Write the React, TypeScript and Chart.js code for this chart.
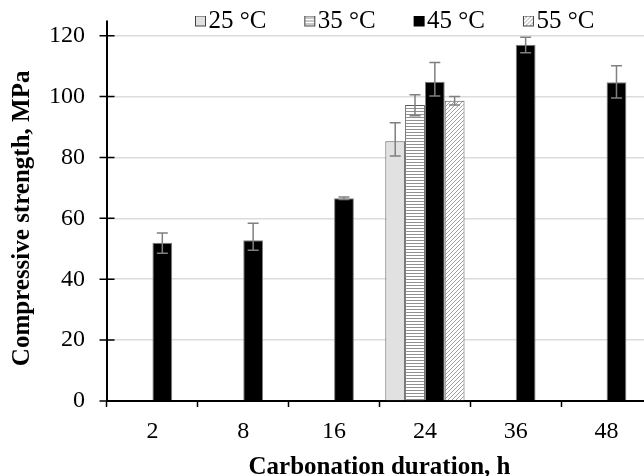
import React, { useEffect, useRef } from 'react';
import { Chart, registerables } from 'chart.js';

Chart.register(...registerables);

// ---- data ----
const categories = ['2', '8', '16', '24', '36', '48'];
const seriesLabels = ['25 °C', '35 °C', '45 °C', '55 °C'];
const values25 = [null, null, null, 85.3, null, null];
const values35 = [null, null, null, 97.2, null, null];
const values45 = [52.0, 52.8, 66.6, 104.9, 117.0, 104.7];
const values55 = [null, null, null, 98.6, null, null];
const errPlus25 = [0, 0, 0, 6.1, 0, 0];
const errMinus25 = [0, 0, 0, 4.8, 0, 0];
const errPlus35 = [0, 0, 0, 3.4, 0, 0];
const errMinus35 = [0, 0, 0, 3.5, 0, 0];
const errPlus45 = [3.2, 5.6, 0.4, 6.3, 2.5, 5.4];
const errMinus45 = [3.5, 3.3, 0.4, 4.7, 2.6, 5.2];
const errPlus55 = [0, 0, 0, 1.4, 0, 0];
const errMinus55 = [0, 0, 0, 1.4, 0, 0];
const yTickValues = [0, 20, 40, 60, 80, 100, 120];
const yMax = 120;
const yAxisLineMax = 125;
const xTitle = 'Carbonation duration, h';
const yTitle = 'Compressive strength, MPa';

const FONT = '"Liberation Serif", "Times New Roman", serif';
const CANVAS_W = 660;
const CANVAS_H = 490;
const LEGEND_X = 194;
const LEGEND_Y = 9;
const LEGEND_STEP = 109.3;
const LEGEND_FONT = 25;

function tile(w: number, h: number, draw: (c: CanvasRenderingContext2D) => void) {
  const c = document.createElement('canvas');
  c.width = w;
  c.height = h;
  const g = c.getContext('2d')!;
  draw(g);
  return c;
}

function makeFills() {
  const tmp = document.createElement('canvas').getContext('2d')!;
  const hl = tile(3, 3, (g) => {
    g.fillStyle = '#ffffff';
    g.fillRect(0, 0, 3, 3);
    g.fillStyle = '#909090';
    g.fillRect(0, 0, 3, 1);
  });
  const dg = tile(4, 4, (g) => {
    g.fillStyle = '#ffffff';
    g.fillRect(0, 0, 4, 4);
    g.fillStyle = '#a0a0a0';
    for (let i = 0; i < 4; i++) g.fillRect(i, 3 - i, 1, 1);
  });
  const hPat = tmp.createPattern(hl, 'repeat')!;
  const dPat = tmp.createPattern(dg, 'repeat')!;
  return ['#e1e1e1', hPat, '#000000', dPat] as (string | CanvasPattern)[];
}

function legendImage(kind: number) {
  return tile(24, 12, (g) => {
    const x0 = 12, y0 = 0, s = 11;
    if (kind === 0) {
      g.fillStyle = '#e1e1e1';
      g.fillRect(x0, y0, s, s);
    } else if (kind === 1) {
      g.fillStyle = '#ffffff';
      g.fillRect(x0, y0, s, s);
      g.fillStyle = '#909090';
      for (let yy = 2; yy < s - 1; yy += 3) g.fillRect(x0, y0 + yy, s, 1);
    } else if (kind === 2) {
      g.fillStyle = '#000000';
      g.fillRect(x0, y0, s, s);
    } else {
      g.fillStyle = '#ffffff';
      g.fillRect(x0, y0, s, s);
      g.fillStyle = '#a0a0a0';
      for (let xx = 0; xx < s; xx++) for (let yy = 0; yy < s; yy++) if ((xx + yy) % 4 === 0) g.fillRect(x0 + xx, y0 + yy, 1, 1);
    }
    g.strokeStyle = kind === 2 ? '#000000' : '#404040';
    g.lineWidth = 1;
    g.strokeRect(x0 + 0.5, y0 + 0.5, s - 1, s - 1);
  });
}

export default function App() {
  const ref = useRef<HTMLCanvasElement | null>(null);

  useEffect(() => {
    const canvas = ref.current;
    if (!canvas) return;
    const fills = makeFills();
    const imgs = [0, 1, 2, 3].map(legendImage);
    const mctx = document.createElement('canvas').getContext('2d')!;
    mctx.font = `${LEGEND_FONT}px ${FONT}`;
    const tw = mctx.measureText(seriesLabels[0]).width;
    const legendPad = LEGEND_STEP - 2 - LEGEND_FONT / 2 - tw;

    const allValues = [values25, values35, values45, values55];
    const plus = [errPlus25, errPlus35, errPlus45, errPlus55];
    const minus = [errMinus25, errMinus35, errMinus45, errMinus55];
    const borders = ['#595959', '#595959', '#7f7f7f', '#595959'];

    const legendPlacer = {
      id: 'legendPlacer',
      afterLayout(chart: any) {
        const lg = chart.legend;
        if (!lg) return;
        const pad = lg.options.labels.padding;
        const w = lg.width;
        lg.left = LEGEND_X - pad;
        lg.right = lg.left + w;
        lg.top = LEGEND_Y - pad;
        lg.bottom = LEGEND_Y + 30;
        lg.height = lg.bottom - lg.top;
      },
    };

    const errorBars = {
      id: 'errorBars',
      afterDatasetsDraw(chart: any) {
        const ctx = chart.ctx;
        const ys = chart.scales.y;
        chart.data.datasets.forEach((ds: any, i: number) => {
          const meta = chart.getDatasetMeta(i);
          meta.data.forEach((bar: any, j: number) => {
            const v = ds.data[j];
            if (v == null) return;
            const top = ys.getPixelForValue(v + plus[i][j]);
            const bot = ys.getPixelForValue(v - minus[i][j]);
            const x = bar.x;
            ctx.save();
            ctx.strokeStyle = '#808080';
            ctx.lineWidth = 1.5;
            ctx.beginPath();
            ctx.moveTo(x, top);
            ctx.lineTo(x, bot);
            ctx.moveTo(x - 5.5, top);
            ctx.lineTo(x + 5.5, top);
            ctx.moveTo(x - 5.5, bot);
            ctx.lineTo(x + 5.5, bot);
            ctx.stroke();
            ctx.restore();
          });
        });
      },
    };

    const yAxisDecor = {
      id: 'yAxisDecor',
      afterDraw(chart: any) {
        const ctx = chart.ctx;
        const ys = chart.scales.y;
        const left = chart.chartArea.left;
        const topPix = ys.getPixelForValue(yMax);
        const ext = ys.getPixelForValue(yMax - (yAxisLineMax - yMax)) - topPix;
        ctx.save();
        ctx.strokeStyle = '#000000';
        ctx.lineWidth = 2;
        ctx.beginPath();
        ctx.moveTo(left, topPix - ext);
        ctx.lineTo(left, topPix + 1);
        ctx.stroke();
        ctx.lineWidth = 1.5;
        ctx.beginPath();
        yTickValues.forEach((v) => {
          const py = ys.getPixelForValue(v);
          ctx.moveTo(left - 7.5, py);
          ctx.lineTo(left + 7.5, py);
        });
        ctx.stroke();
        ctx.restore();
      },
    };

    const chart = new Chart(canvas, {
      type: 'bar',
      data: {
        labels: categories,
        datasets: seriesLabels.map((label, i) => ({
          label,
          data: allValues[i],
          backgroundColor: fills[i],
          borderColor: borders[i],
          borderWidth: 1,
          barPercentage: 1,
          categoryPercentage: 0.872,
        })),
      },
      options: {
        responsive: false,
        animation: false,
        devicePixelRatio: 1,
        layout: { padding: { left: 0, right: 8, top: 0, bottom: 0 } },
        plugins: {
          tooltip: { enabled: false },
          legend: {
            display: true,
            position: 'top',
            align: 'start',
            maxHeight: 35.7,
            labels: {
              usePointStyle: true,
              pointStyleWidth: 2,
              padding: legendPad,
              color: '#000000',
              font: { family: FONT, size: LEGEND_FONT },
              generateLabels: () =>
                seriesLabels.map((t, i) => ({
                  text: t,
                  pointStyle: imgs[i],
                  fillStyle: 'rgba(0,0,0,0)',
                  strokeStyle: 'rgba(0,0,0,0)',
                  lineWidth: 0,
                  hidden: false,
                  datasetIndex: i,
                  fontColor: '#000000',
                })) as any,
            },
          },
        },
        scales: {
          x: {
            type: 'category',
            offset: true,
            grid: {
              offset: true,
              drawOnChartArea: false,
              drawTicks: true,
              tickLength: 6,
              tickColor: '#000000',
              tickWidth: 1.5,
            },
            border: { display: true, color: '#000000', width: 2 },
            ticks: {
              padding: 10,
              color: '#000000',
              font: { family: FONT, size: 24 },
              maxRotation: 0,
              autoSkip: false,
            },
            title: {
              display: true,
              text: xTitle,
              color: '#000000',
              font: { family: FONT, size: 25, weight: 'bold', lineHeight: 1.2 },
              padding: { top: 0, bottom: 7 },
            },
            afterFit: (s: any) => {
              s.height = CANVAS_H - 401;
            },
          },
          y: {
            type: 'linear',
            min: 0,
            max: yMax,
            ticks: {
              stepSize: 20,
              padding: 0,
              color: '#000000',
              font: { family: FONT, size: 24 },
            },
            afterBuildTicks: (s: any) => {
              s.ticks = yTickValues.map((v) => ({ value: v }));
            },
            grid: {
              color: '#dcdcdc',
              lineWidth: 1.5,
              drawTicks: true,
              tickLength: 22,
              tickColor: 'rgba(0,0,0,0)',
            },
            border: { display: true, color: '#000000', width: 2 },
            title: {
              display: true,
              text: yTitle,
              color: '#000000',
              font: { family: FONT, size: 25, weight: 'bold', lineHeight: 1.2 },
              padding: { top: 8, bottom: 0 },
            },
            afterFit: (s: any) => {
              s.width = 107;
            },
          },
        },
      },
      plugins: [legendPlacer, errorBars, yAxisDecor],
    } as any);

    return () => {
      chart.destroy();
    };
  }, []);

  return (
    <div
      style={{
        position: 'fixed',
        left: 0,
        top: 0,
        width: 644,
        height: 476,
        overflow: 'hidden',
        background: '#ffffff',
      }}
    >
      <canvas
        ref={ref}
        width={CANVAS_W}
        height={CANVAS_H}
        style={{ display: 'block', width: CANVAS_W, height: CANVAS_H }}
      />
    </div>
  );
}
